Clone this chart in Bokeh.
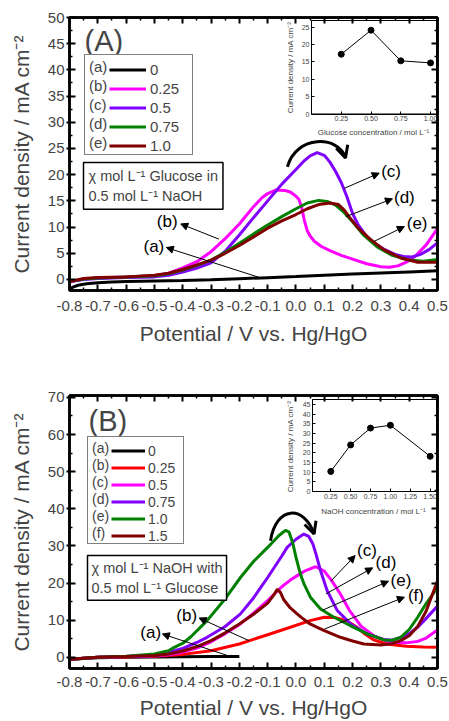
import math
from bokeh.plotting import figure
from bokeh.models import (Range1d, FixedTicker, PrintfTickFormatter, LinearAxis, Legend, LegendItem,
                          Label, Arrow, NormalHead, OpenHead, ColumnDataSource, CustomJSTickFormatter,
                          NumeralTickFormatter)
from bokeh.layouts import column
from bokeh.embed import file_html
from bokeh.resources import INLINE
from bokeh.core.properties import value

FONT = "Liberation Sans"

# ---------------- shared axis data ----------------
x_ticks = [-0.8, -0.7, -0.6, -0.5, -0.4, -0.3, -0.2, -0.1, 0.0, 0.1, 0.2, 0.3, 0.4, 0.5]
x_minor = [-0.75, -0.65, -0.55, -0.45, -0.35, -0.25, -0.15, -0.05, 0.05, 0.15, 0.25, 0.35, 0.45]
x_title = "Potential / V vs. Hg/HgO"
y_title = "Current density / mA cm\u207b\u00b2"

# ---------------- panel A data (glucose series in 0.5 M NaOH) ----------------
yA_ticks = [0, 5, 10, 15, 20, 25, 30, 35, 40, 45, 50]
yA_minor = [2.5, 7.5, 12.5, 17.5, 22.5, 27.5, 32.5, 37.5, 42.5, 47.5]
A_names = ["0", "0.25", "0.5", "0.75", "1.0"]
A_tags = ["(a)", "(b)", "(c)", "(d)", "(e)"]
A_colors = ["#000000", "#ff00ff", "#8000ff", "#008000", "#800000"]

A_a_x = [-0.8, -0.79, -0.77, -0.74, -0.7, -0.65, -0.6, -0.5, -0.4, -0.3, -0.2, -0.1, 0.0, 0.1, 0.2, 0.3, 0.4, 0.5]
A_a_y = [-2.0, -1.5, -1.1, -0.8, -0.6, -0.5, -0.4, -0.3, -0.2, -0.05, 0.15, 0.35, 0.55, 0.8, 1.05, 1.25, 1.45, 1.65]

A_b_x = [-0.8, -0.75, -0.7, -0.6, -0.5, -0.45, -0.4, -0.35, -0.3, -0.25, -0.2, -0.15, -0.12, -0.1, -0.07,
         -0.04, -0.02, 0.0, 0.01, 0.02, 0.03, 0.04, 0.05, 0.065, 0.09, 0.12, 0.16, 0.2, 0.25, 0.3, 0.33,
         0.36, 0.39, 0.42, 0.46, 0.5]
A_b_y = [-0.5, 0.1, 0.3, 0.5, 0.7, 1.2, 2.2, 3.4, 5.3, 7.8, 10.6, 13.9, 15.6, 16.4, 17.1,
         17.0, 16.7, 15.9, 15.3, 13.8, 11.2, 9.3, 8.3, 7.3, 6.3, 5.5, 4.6, 3.9, 3.0, 2.45, 2.35,
         2.6, 3.3, 4.4, 6.6, 9.7]

A_c_x = [-0.8, -0.75, -0.7, -0.6, -0.5, -0.45, -0.4, -0.35, -0.3, -0.25, -0.2, -0.15, -0.1, -0.05, 0.0,
         0.03, 0.05, 0.075, 0.1, 0.12, 0.14, 0.16, 0.18, 0.2, 0.22, 0.25, 0.28, 0.31, 0.35, 0.38, 0.41,
         0.44, 0.47, 0.5]
A_c_y = [-0.4, 0.0, 0.2, 0.4, 0.5, 0.8, 1.4, 2.2, 3.2, 5.4, 8.5, 11.8, 15.0, 18.2, 21.0,
         22.7, 23.6, 24.2, 23.7, 22.4, 20.6, 18.5, 15.8, 12.6, 10.4, 8.2, 6.8, 5.8, 4.8, 4.4, 4.3,
         4.8, 5.7, 7.0]

A_d_x = [-0.8, -0.75, -0.7, -0.6, -0.5, -0.45, -0.4, -0.35, -0.3, -0.25, -0.2, -0.15, -0.1, -0.05, 0.0,
         0.04, 0.08, 0.11, 0.14, 0.17, 0.2, 0.24, 0.29, 0.34, 0.4, 0.45, 0.5]
A_d_y = [-0.4, 0.1, 0.3, 0.5, 0.7, 1.1, 1.8, 2.7, 3.7, 5.2, 6.9, 8.7, 10.4, 12.0, 13.5,
         14.6, 15.1, 14.9, 14.2, 12.8, 11.0, 8.4, 6.1, 4.6, 3.7, 3.5, 3.8]

A_e_x = [-0.8, -0.75, -0.7, -0.6, -0.5, -0.45, -0.4, -0.35, -0.3, -0.25, -0.2, -0.15, -0.1, -0.05, 0.0,
         0.04, 0.08, 0.12, 0.15, 0.17, 0.19, 0.22, 0.26, 0.31, 0.37, 0.43, 0.5]
A_e_y = [-0.4, 0.2, 0.4, 0.5, 0.8, 1.2, 1.9, 2.8, 3.7, 5.0, 6.5, 8.1, 9.8, 11.2, 12.4,
         13.5, 14.3, 14.6, 14.3, 13.3, 11.8, 9.8, 7.8, 5.7, 4.1, 3.3, 3.3]

A_lbl_x = [-0.502, -0.455, 0.336, 0.383, 0.428]
A_lbl_y = [6.3, 11.0, 20.6, 15.7, 10.6]
A_arr_x0 = [-0.13, -0.272, 0.171, 0.176, 0.277]
A_arr_y0 = [0.4, 7.7, 17.4, 12.0, 7.3]
A_arr_x1 = [-0.458, -0.407, 0.294, 0.341, 0.383]
A_arr_y1 = [6.1, 10.6, 20.3, 15.4, 10.1]
A_curl = dict(x0=[-0.03], y0=[21.5], cx0=[0.0], cy0=[27.6], cx1=[0.15], cy1=[27.6], x1=[0.175], y1=[23.2])

# inset A
iA_x = [0.25, 0.50, 0.75, 1.00]
iA_y = [17.2, 24.1, 15.3, 14.7]
iA_xticks = [0.25, 0.50, 0.75, 1.00]
iA_yticks = [0, 5, 10, 15, 20, 25]
iA_xlim = (0.0, 1.05)
iA_ylim = (0.0, 26.9)
iA_xtitle = "Glucose concentration / mol L\u207b\u00b9"

# ---------------- panel B data (NaOH series with 0.5 M glucose) ----------------
yB_ticks = [0, 10, 20, 30, 40, 50, 60, 70]
yB_minor = [5, 15, 25, 35, 45, 55, 65]
B_names = ["0", "0.25", "0.5", "0.75", "1.0", "1.5"]
B_tags = ["(a)", "(b)", "(c)", "(d)", "(e)", "(f)"]
B_colors = ["#000000", "#ff0000", "#ff00ff", "#8000ff", "#008000", "#800000"]

B_a_x = [-0.8, -0.75, -0.7, -0.6, -0.5, -0.4, -0.3, -0.2]
B_a_y = [-0.6, -0.3, -0.1, 0.0, 0.1, 0.15, 0.2, 0.25]

B_b_x = [-0.8, -0.7, -0.6, -0.5, -0.4, -0.3, -0.2, -0.1, -0.02, 0.05, 0.1, 0.14, 0.18, 0.216,
         0.245, 0.275, 0.32, 0.39, 0.45, 0.5]
B_b_y = [-0.5, 0.0, 0.1, 0.3, 0.8, 1.8, 3.6, 6.1, 8.1, 9.9, 10.8, 10.7, 9.8, 8.1,
         6.2, 4.7, 3.6, 3.0, 2.8, 2.7]

B_c_x = [-0.8, -0.7, -0.6, -0.5, -0.45, -0.4, -0.35, -0.3, -0.25, -0.2, -0.15, -0.1, -0.05, -0.02, 0.0,
         0.03, 0.07, 0.1, 0.125, 0.155, 0.19, 0.23, 0.275, 0.33, 0.39, 0.43, 0.46, 0.5]
B_c_y = [-0.5, 0.0, 0.2, 0.4, 0.7, 1.4, 2.5, 4.2, 6.4, 8.8, 11.9, 15.3, 19.0, 20.8, 21.8,
         23.2, 24.4, 23.2, 20.8, 17.3, 12.5, 8.4, 5.8, 4.1, 3.9, 4.3, 5.2, 7.4]

B_d_x = [-0.8, -0.7, -0.6, -0.5, -0.45, -0.43, -0.4, -0.35, -0.314, -0.25, -0.196, -0.15, -0.1, -0.05,
         -0.031, 0.0, 0.028, 0.045, 0.06, 0.07, 0.087, 0.11, 0.146, 0.193, 0.252, 0.31, 0.34, 0.37,
         0.4, 0.43, 0.46, 0.5]
B_d_y = [-0.5, 0.0, 0.2, 0.5, 1.0, 1.8, 2.4, 4.0, 5.4, 8.3, 11.7, 16.0, 21.5, 27.3,
         29.6, 31.8, 33.2, 32.6, 30.5, 28.0, 23.3, 18.0, 12.6, 9.0, 6.3, 4.8, 4.6, 5.4,
         6.4, 8.1, 10.5, 13.8]

B_e_x = [-0.8, -0.7, -0.6, -0.5, -0.45, -0.43, -0.4, -0.373, -0.314, -0.255, -0.196, -0.15, -0.1, -0.06,
         -0.037, -0.025, -0.012, 0.0, 0.01, 0.02, 0.03, 0.051, 0.087, 0.134, 0.193, 0.252, 0.311,
         0.34, 0.37, 0.4, 0.43, 0.46, 0.5]
B_e_y = [-0.5, 0.0, 0.3, 0.9, 1.8, 2.7, 3.8, 5.4, 9.9, 15.3, 21.5, 25.8, 29.6, 32.8,
         34.2, 33.8, 31.0, 27.0, 24.0, 21.5, 19.5, 16.2, 13.0, 10.8, 8.5, 6.3, 4.7,
         4.6, 5.4, 7.5, 10.8, 14.5, 18.8]

B_f_x = [-0.8, -0.7, -0.6, -0.5, -0.45, -0.4, -0.35, -0.3, -0.25, -0.2, -0.15, -0.1, -0.08, -0.066,
         -0.055, -0.043, -0.02, 0.0, 0.02, 0.05, 0.075, 0.1, 0.157, 0.2, 0.24, 0.3, 0.34, 0.37, 0.4,
         0.43, 0.46, 0.5]
B_f_y = [-0.5, 0.0, 0.2, 0.5, 0.9, 1.7, 2.9, 4.5, 6.6, 9.0, 11.6, 14.6, 16.6, 18.3,
         17.5, 15.5, 13.3, 12.0, 10.7, 9.0, 8.1, 7.2, 5.4, 4.4, 3.6, 3.3, 3.7, 4.5, 5.8,
         8.3, 12.5, 20.6]

B_lbl_x = [-0.513, -0.386, 0.251, 0.318, 0.371, 0.424]
B_lbl_y = [6.7, 11.2, 28.7, 25.6, 20.8, 16.6]
B_arr_x0 = [-0.23, -0.166, 0.123, 0.106, 0.094, 0.1]
B_arr_y0 = [0.2, 4.5, 20.5, 17.1, 12.7, 7.6]
B_arr_x1 = [-0.472, -0.342, 0.209, 0.271, 0.327, 0.383]
B_arr_y1 = [6.3, 10.6, 27.4, 24.1, 20.5, 16.2]
B_curl = dict(x0=[-0.09], y0=[31.4], cx0=[-0.07], cy0=[41.0], cx1=[0.03], cy1=[41.0], x1=[0.064], y1=[33.2])

# inset B
iB_x = [0.25, 0.50, 0.75, 1.00, 1.50]
iB_y = [10.4, 24.1, 32.8, 34.3, 18.2]
iB_xticks = [0.25, 0.50, 0.75, 1.00, 1.25, 1.50]
iB_yticks = [0, 5, 10, 15, 20, 25, 30, 35, 40, 45]
iB_xlim = (0.02, 1.58)
iB_ylim = (0.0, 47.6)
iB_xtitle = "NaOH concentration / mol L\u207b\u00b9"

# ---------------- layout constants (pixels) ----------------
FRAME_L, FRAME_R = 69, 437


# ---------------- builders ----------------
def main_fig(height, yr, b_top, b_bottom, yt, ym, xl_standoff, xt_standoff):
    p = figure(width=449, height=height, x_range=Range1d(-0.8, 0.5), y_range=Range1d(*yr),
               output_backend="svg", toolbar_location=None,
               min_border_left=FRAME_L, min_border_right=449 - FRAME_R,
               min_border_top=b_top, min_border_bottom=b_bottom)
    p.xgrid.visible = False
    p.ygrid.visible = False
    p.background_fill_color = "white"
    p.border_fill_color = "white"
    p.outline_line_color = "black"
    p.outline_line_width = 2.5

    xa = p.xaxis[0]
    xa.ticker = FixedTicker(ticks=x_ticks, minor_ticks=x_minor)
    xa.formatter = PrintfTickFormatter(format="%.1f")
    ya = p.yaxis[0]
    ya.ticker = FixedTicker(ticks=yt, minor_ticks=ym)
    for ax in (xa, ya):
        ax.axis_line_width = 2.5
        ax.major_tick_line_width = 2
        ax.minor_tick_line_width = 1.5
        ax.major_tick_in = 6
        ax.minor_tick_in = 3
        ax.minor_tick_out = 0
        ax.major_label_text_font = FONT
        ax.major_label_text_font_size = "15px"
        ax.axis_label_text_font = FONT
        ax.axis_label_text_font_size = "21px"
        ax.axis_label_text_font_style = "normal"
    xa.major_tick_out = 0
    xa.major_label_standoff = xt_standoff
    xa.axis_label_standoff = xl_standoff
    ya.major_tick_out = 3
    ya.major_label_standoff = 2
    ya.axis_label_standoff = 12
    xa.axis_label = x_title
    ya.axis_label = y_title

    for loc, tk, mn in (("right", yt, ym), ("above", x_ticks, x_minor)):
        ax = LinearAxis(ticker=FixedTicker(ticks=tk, minor_ticks=mn),
                        formatter=CustomJSTickFormatter(code="return ''"),
                        major_label_text_font_size="0px", major_label_standoff=0,
                        axis_line_width=2.5, major_tick_line_width=2, minor_tick_line_width=1.5,
                        major_tick_in=6, major_tick_out=0, minor_tick_in=3, minor_tick_out=0)
        p.add_layout(ax, loc)
    return p


def add_curves(p, xs_list, ys_list, colors):
    rs = []
    for xs, ys, c in zip(xs_list, ys_list, colors):
        rs.append(p.line(xs, ys, line_color=c, line_width=3))
    return rs


def add_legends(p, rs, tags, names, loc_l, loc_r, row_h, font_px, lab_w, glyph_w, standoff):
    common = dict(orientation="vertical", glyph_height=row_h, label_height=row_h, padding=2,
                  spacing=0, margin=0, label_text_font=FONT, label_text_font_size=font_px,
                  label_text_baseline="middle")
    L1 = Legend(items=[LegendItem(label=t, renderers=[r]) for t, r in zip(tags, rs)],
                location=loc_l, glyph_width=0, label_standoff=2, label_width=lab_w,
                border_line_color="black", border_line_width=1.5,
                background_fill_color="white", background_fill_alpha=1.0, **common)
    L2 = Legend(items=[LegendItem(label=n, renderers=[r]) for n, r in zip(names, rs)],
                location=loc_r, glyph_width=glyph_w, label_standoff=standoff,
                border_line_color=None, background_fill_alpha=0.0, **common)
    p.add_layout(L1)
    p.add_layout(L2)


def add_annotations(p, lx, ly, tags, ax0, ay0, ax1, ay1, curl):
    src = ColumnDataSource(dict(x=lx, y=ly, t=tags))
    p.text(x="x", y="y", text="t", source=src, text_font=value(FONT), text_font_size="17px",
           text_align="center", text_baseline="middle", text_color="black")
    asrc = ColumnDataSource(dict(x0=ax0, y0=ay0, x1=ax1, y1=ay1))
    p.add_layout(Arrow(source=asrc, x_start="x0", y_start="y0", x_end="x1", y_end="y1",
                       line_width=1, line_color="black",
                       end=NormalHead(size=7, fill_color="black", line_color="black", line_width=1)))
    csrc = ColumnDataSource(curl)
    p.bezier(x0="x0", y0="y0", x1="x1", y1="y1", cx0="cx0", cy0="cy0", cx1="cx1", cy1="cy1",
             source=csrc, line_color="black", line_width=3)
    p.add_layout(Arrow(source=csrc, x_start="cx1", y_start="cy1", x_end="x1", y_end="y1",
                       line_color=None,
                       end=OpenHead(size=12, line_color="black", line_width=3)))


def span_range(d0, d1, p0, p1, f0, f1):
    """Range whose values d0..d1 fall on pixels p0..p1 when the frame spans pixels f0..f1."""
    k = (d1 - d0) / (p1 - p0)
    return Range1d(d0 + (f0 - p0) * k, d1 + (f1 - p1) * k)


def add_inset(p, name, frame_top, frame_bottom, box, xlim, ylim, xs, ys, xt, yt, xtitle, title_pos):
    """Draw an inset chart inside the main frame through extra ranges.
    box = (left, right, top, bottom) of the inset frame in page pixels."""
    bl, br, bt, bb = box
    p.extra_x_ranges[name] = span_range(xlim[0], xlim[1], bl, br, FRAME_L, FRAME_R)
    p.extra_y_ranges[name] = span_range(ylim[0], ylim[1], bb, bt, frame_bottom, frame_top)
    p.quad(left=[xlim[0]], right=[xlim[1]], bottom=[ylim[0]], top=[ylim[1]],
           x_range_name=name, y_range_name=name,
           fill_color="white", line_color="black", line_width=1)
    p.line(xs, ys, x_range_name=name, y_range_name=name, line_color="black", line_width=1)
    p.scatter(xs, ys, x_range_name=name, y_range_name=name, size=6,
              fill_color="black", line_color="black")
    common = dict(x_range_name=name, y_range_name=name, axis_line_width=1,
                  major_tick_in=3, major_tick_out=0, minor_tick_in=0, minor_tick_out=0,
                  major_label_text_font=FONT, major_label_text_font_size="7px",
                  major_label_standoff=2)
    xax = LinearAxis(fixed_location=ylim[0], bounds=xlim, ticker=FixedTicker(ticks=xt),
                     formatter=NumeralTickFormatter(format="0.00"), **common)
    yax = LinearAxis(fixed_location=xlim[0], bounds=ylim, ticker=FixedTicker(ticks=yt), **common)
    p.add_layout(xax, "below")
    p.add_layout(yax, "left")
    (xtx, xty), (ytx, yty) = title_pos
    p.add_layout(Label(x=xtx - FRAME_L, y=frame_bottom - xty, x_units="screen", y_units="screen",
                       anchor="center", text=xtitle, text_font=FONT, text_font_size="8px"))
    p.add_layout(Label(x=ytx - FRAME_L, y=frame_bottom - yty, x_units="screen", y_units="screen",
                       anchor="center", angle=math.pi / 2, text=y_title,
                       text_font=FONT, text_font_size="8px"))


# ---------------- panel A ----------------
pA = main_fig(360, (-2.1, 50), 17, 70, yA_ticks, yA_minor, 8, 10)
rA = add_curves(pA, [A_a_x, A_b_x, A_c_x, A_d_x, A_e_x], [A_a_y, A_b_y, A_c_y, A_d_y, A_e_y], A_colors)
add_legends(pA, rA, A_tags, A_names, (15, 135), (40, 135), 19, "15px", 101, 37, 4)
add_annotations(pA, A_lbl_x, A_lbl_y, A_tags, A_arr_x0, A_arr_y0, A_arr_x1, A_arr_y1, A_curl)
pA.add_layout(Label(x=15, y=266, x_units="screen", y_units="screen", anchor="top_left", text="(A)",
                    text_font=FONT, text_font_size="29px"))
pA.add_layout(Label(x=14, y=128, x_units="screen", y_units="screen", anchor="top_left",
                    text="\u03c7 mol L\u207b\u00b9 Glucose in\n0.5 mol L\u207b\u00b9 NaOH",
                    text_font=FONT, text_font_size="14.5px", text_line_height=1.3,
                    border_line_color="black", border_line_width=1.5,
                    background_fill_color="white", padding=5))
add_inset(pA, "iA", 17, 290, (311, 436, 20, 113.5), iA_xlim, iA_ylim, iA_x, iA_y,
          iA_xticks, iA_yticks, iA_xtitle, ((373, 132), (290, 67)))

# ---------------- panel B ----------------
pB = main_fig(361, (-3.0, 70.5), 35, 53, yB_ticks, yB_minor, 6, 8)
rB = add_curves(pB, [B_a_x, B_b_x, B_c_x, B_d_x, B_e_x, B_f_x],
                [B_a_y, B_b_y, B_c_y, B_d_y, B_e_y, B_f_y], B_colors)
add_legends(pB, rB, B_tags, B_names, (18, 124), (42, 124), 17, "14px", 89, 34, 3)
add_annotations(pB, B_lbl_x, B_lbl_y, B_tags, B_arr_x0, B_arr_y0, B_arr_x1, B_arr_y1, B_curl)
pB.add_layout(Label(x=19, y=264, x_units="screen", y_units="screen", anchor="top_left", text="(B)",
                    text_font=FONT, text_font_size="29px"))
pB.add_layout(Label(x=18, y=113, x_units="screen", y_units="screen", anchor="top_left",
                    text="\u03c7 mol L\u207b\u00b9 NaOH with\n0.5 mol L\u207b\u00b9 Glucose",
                    text_font=FONT, text_font_size="14.5px", text_line_height=1.3,
                    border_line_color="black", border_line_width=1.5,
                    background_fill_color="white", padding=4))
# panel B frame in its own figure: top 35, bottom 308 (page 395..668)
add_inset(pB, "iB", 35, 308, (312, 436, 39, 131), iB_xlim, iB_ylim, iB_x, iB_y,
          iB_xticks, iB_yticks, iB_xtitle, ((373, 151), (290, 86)))

layout = column(pA, pB, spacing=0)

open("out.html", "w").write(file_html(layout, INLINE))
